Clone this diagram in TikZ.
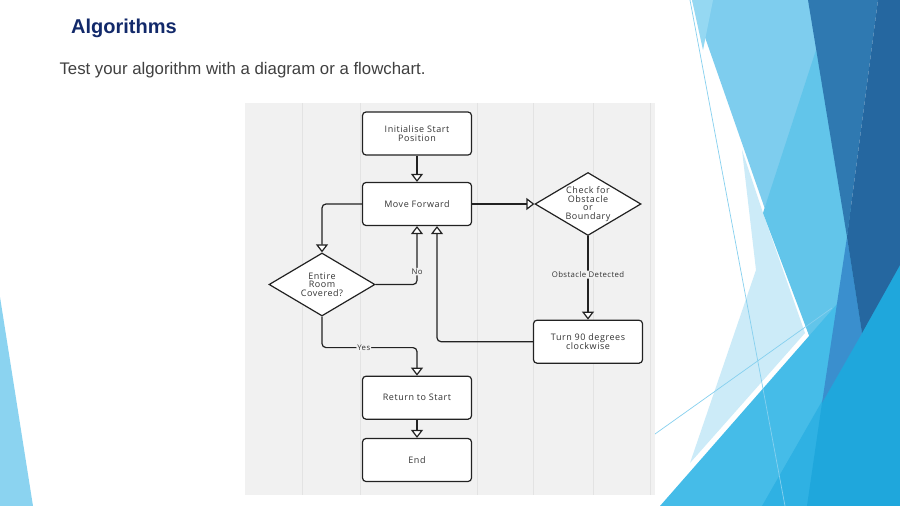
\documentclass[tikz,border=0pt]{standalone}
\usepackage{fontspec}
\setmainfont{Liberation Sans}
\newfontfamily\fcfont[LetterSpace=6]{Open Sans}
\newfontfamily\lblfont[LetterSpace=5]{Open Sans}
\usetikzlibrary{arrows.meta,shapes.geometric}
\definecolor{navyC}{HTML}{12296A}
\definecolor{subC}{HTML}{404040}
\definecolor{panelC}{HTML}{F1F1F1}
\definecolor{gridC}{HTML}{E3E3E3}
\definecolor{lineC}{HTML}{222222}
\definecolor{txtC}{HTML}{333333}
\definecolor{paleC}{HTML}{CCEBF8}
\definecolor{lbC}{HTML}{7ECDEE}
\definecolor{stripC}{HTML}{95D8F2}
\definecolor{midC}{HTML}{62C5EA}
\definecolor{mtwoC}{HTML}{45BCE8}
\definecolor{cleftC}{HTML}{2FB1E3}
\definecolor{brightC}{HTML}{1FA7DC}
\definecolor{mbC}{HTML}{3A8FCE}
\definecolor{donec}{HTML}{2F79B1}
\definecolor{dtwoC}{HTML}{2567A0}
\definecolor{thinC}{HTML}{86D0EF}
\definecolor{leftC}{HTML}{8BD3F0}
\begin{document}
\begin{tikzpicture}[x=1pt,y=-1pt,
  box/.style={draw=lineC, line width=1.2pt, fill=white, rounded corners=3.5pt,
    minimum width=109pt, minimum height=43pt, align=center,
    font=\fcfont\fontsize{9}{9}\selectfont, text=txtC, inner sep=1pt},
  dia/.style={draw=lineC, line width=1.2pt, fill=white, shape=diamond, aspect=1.68,
    minimum width=106pt, minimum height=63pt, align=center,
    font=\fcfont\fontsize{9}{8.7}\selectfont, text=txtC, inner sep=0pt},
  conn/.style={draw=lineC, line width=1.2pt, rounded corners=4pt,
    -{Triangle[fill=white,length=8pt,width=12pt]}},
  lbl/.style={fill=panelC, inner sep=1pt, font=\lblfont\fontsize{7.8}{9}\selectfont, text=txtC}]
\useasboundingbox (0,0) rectangle (900,506);
\fill[white] (0,0) rectangle (900,506);
% left decoration
\fill[leftC] (0,297) -- (33,506) -- (0,506) -- cycle;
% right decoration
\fill[paleC] (742,150) -- (756,270) -- (690,463) -- (805,333) -- (763,213) -- cycle;
\fill[lbC] (692,0) -- (815,0) -- (855,280) -- (810,338) -- cycle;
\fill[stripC] (692,0) -- (713,0) -- (703,50) -- cycle;
\fill[midC] (816,50) -- (763,213) -- (810,338) -- (860,300) -- (850,200) -- cycle;
\fill[mtwoC] (660,506) -- (852,287) -- (848,240) -- (900,240) -- (900,506) -- cycle;
\fill[cleftC] (900,265) -- (900,506) -- (762,506) -- cycle;
\fill[brightC] (900,265) -- (900,506) -- (807,506) -- (822,403) -- cycle;
\fill[mbC] (847,237) -- (862,333) -- (822,403) -- cycle;
\fill[donec] (808,0) -- (878,0) -- (847,237) -- cycle;
\fill[dtwoC] (878,0) -- (900,0) -- (900,265) -- (862,333) -- (847,237) -- cycle;
\draw[thinC, line width=0.7pt] (690,0) -- (785,506);
\draw[thinC, line width=0.7pt] (655,434) -- (832,308);
% title
\node[anchor=base west, inner sep=0pt, font=\bfseries\fontsize{20}{22}\selectfont, text=navyC] (title) at (71,33.5) {Algorithms};
\node[anchor=base west, inner sep=0pt, font=\fontsize{16.8}{19}\selectfont, text=subC] (sub) at (59.3,74) {Test your algorithm with a diagram or a flowchart.};
% panel
\fill[panelC] (245,103) rectangle (655,495);
\foreach \gx in {302,360,477,533,593,650} \draw[gridC, line width=0.8pt] (\gx,103) -- (\gx,495);
% nodes
\node[box] (init) at (417,133.5) {Initialise Start\\Position};
\node[box] (move) at (417,204) {Move Forward};
\node[dia] (check) at (588,204) {Check for\\Obstacle\\or\\Boundary};
\node[dia] (cover) at (322,284.5) {Entire\\Room\\Covered?};
\node[box] (turn) at (588,341.7) {Turn 90 degrees\\clockwise};
\node[box] (ret) at (417,397.7) {Return to Start};
\node[box] (endn) at (417,460) {End};
% connectors
\draw[conn] (init.south) -- (move.north);
\draw[conn] (move.east) -- (check.west);
\draw[conn] (move.west) -| (cover.north);
\draw[conn] (cover.east) -| (move.south) node[lbl, pos=0.61] {No};
\draw[conn] (check.south) -- (turn.north) node[lbl, pos=0.46] {Obstacle Detected};
\draw[conn] (turn.west) -| ([xshift=20pt]move.south);
\draw[conn] (cover.south) -- ++(0,31) -| (ret.north) node[lbl, pos=0.22] {Yes};
\draw[conn] (ret.south) -- (endn.north);
\end{tikzpicture}
\end{document}
